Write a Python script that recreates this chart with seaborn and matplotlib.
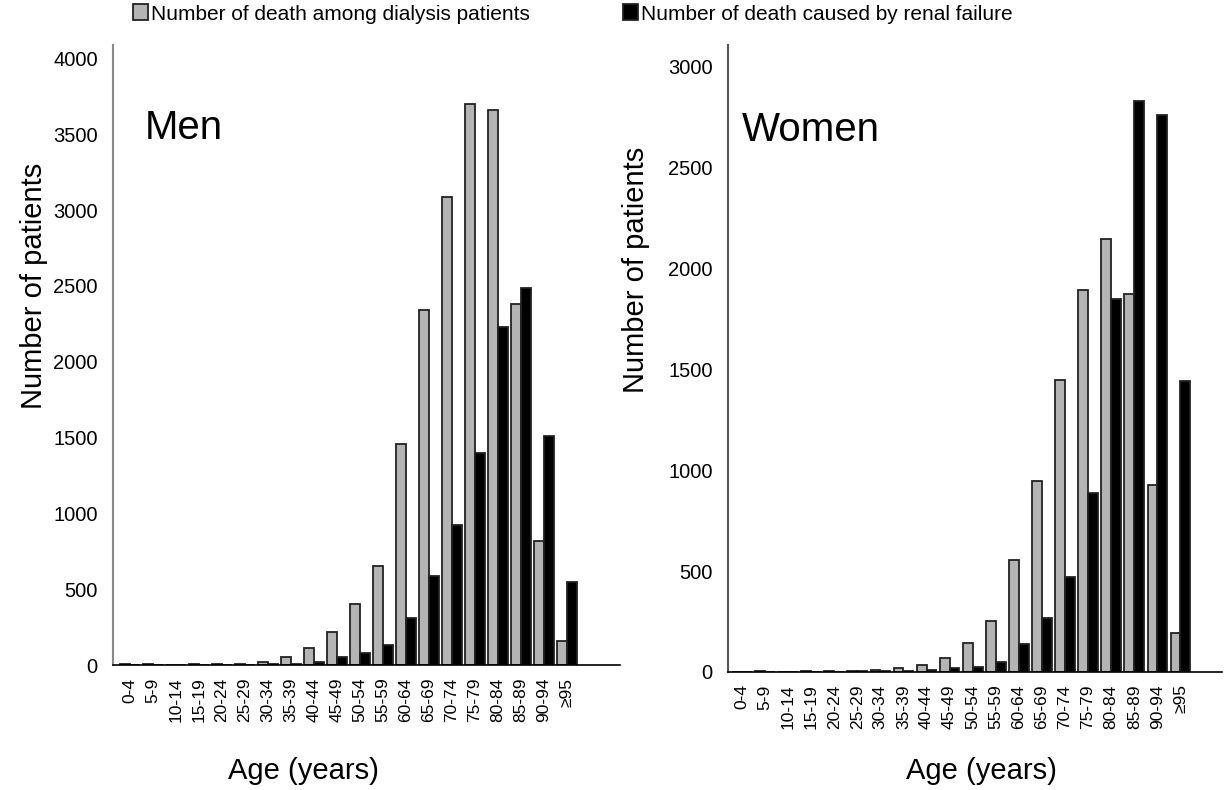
import matplotlib
matplotlib.use("Agg")
import matplotlib.pyplot as plt
import seaborn as sns
import pandas as pd

ages = ["0-4", "5-9", "10-14", "15-19", "20-24", "25-29", "30-34", "35-39",
        "40-44", "45-49", "50-54", "55-59", "60-64", "65-69", "70-74",
        "75-79", "80-84", "85-89", "90-94", "≥95"]

men_dialysis = [9, 9, 0, 9, 9, 9, 18, 53, 110, 215, 402, 654, 1455, 2343,
                3089, 3702, 3657, 2378, 821, 156]
men_renal = [0, 0, 0, 0, 2, 0, 8, 9, 22, 50, 79, 130, 312, 588, 922, 1400,
             2228, 2488, 1508, 545]

women_dialysis = [2, 5, 0, 5, 5, 5, 11, 18, 35, 68, 143, 252, 553, 949,
                  1450, 1896, 2145, 1872, 926, 192]
women_renal = [0, 0, 0, 0, 0, 3, 5, 5, 10, 18, 25, 51, 140, 270, 472, 886,
               1849, 2833, 2764, 1444]

series_names = ["Number of death among dialysis patients",
                "Number of death caused by renal failure"]

sns.set_style("white")
plt.rcParams["font.family"] = ["Liberation Sans", "DejaVu Sans"]
plt.rcParams["text.color"] = "black"
plt.rcParams["axes.labelcolor"] = "black"
plt.rcParams["xtick.color"] = "black"
plt.rcParams["ytick.color"] = "black"


def long_table(dialysis, renal):
    rows = []
    for age, d, r in zip(ages, dialysis, renal):
        rows.append({"age": age, "series": series_names[0], "value": d})
        rows.append({"age": age, "series": series_names[1], "value": r})
    return pd.DataFrame(rows)


fig = plt.figure(figsize=(12.32, 7.9), dpi=100)
ax_m = fig.add_axes([0.0917, 0.1582, 0.4115, 0.7848])
ax_w = fig.add_axes([0.5909, 0.1494, 0.401, 0.7937])

palette = {series_names[0]: "#b4b4b4", series_names[1]: "#000000"}

panels = [
    (ax_m, long_table(men_dialysis, men_renal), "Men", 4088, (-0.74, 21.3),
     [0, 500, 1000, 1500, 2000, 2500, 3000, 3500, 4000],
     (0.063, 0.866), (-0.128, 0.611), (0.375, -0.148), "#8a8a8a"),
    (ax_w, long_table(women_dialysis, women_renal), "Women", 3109, (-0.6, 20.8),
     [0, 500, 1000, 1500, 2000, 2500, 3000],
     (0.028, 0.864), (-0.158, 0.641), (0.514, -0.136), "#555555"),
]

handles = None
for ax, df, title, ymax, xlim, yticks, tpos, ylpos, xlpos, spine_col in panels:
    sns.barplot(data=df, x="age", y="value", hue="series", order=ages,
                hue_order=series_names, palette=palette, width=0.85,
                edgecolor="#222222", linewidth=1.3, saturation=1, ax=ax)
    if handles is None:
        handles, labels = ax.get_legend_handles_labels()
    ax.get_legend().remove()

    ax.set_ylim(0, ymax)
    ax.set_xlim(*xlim)
    ax.set_yticks(yticks)
    ax.tick_params(axis="y", length=0, pad=11, labelsize=14.5)
    ax.tick_params(axis="x", length=0, pad=9, labelsize=12.5, rotation=90)

    for side in ["top", "right"]:
        ax.spines[side].set_visible(False)
    ax.spines["left"].set_color(spine_col)
    ax.spines["left"].set_linewidth(1.5)
    ax.spines["bottom"].set_color("#000000")
    ax.spines["bottom"].set_linewidth(1.2)

    ax.set_ylabel("Number of patients", fontsize=21)
    ax.yaxis.set_label_coords(*ylpos)
    ax.set_xlabel("Age (years)", fontsize=21)
    ax.xaxis.set_label_coords(*xlpos)

    ax.text(tpos[0], tpos[1], title, transform=ax.transAxes, fontsize=29,
            ha="left", va="center")

fig.legend(handles, labels, loc="center left",
           bbox_to_anchor=(133 / 1232, 1 - 14 / 790), ncol=2, frameon=False,
           fontsize=15, handlelength=0.7, handleheight=0.8, handletextpad=0.15,
           columnspacing=4.5, borderpad=0, borderaxespad=0)

fig.savefig("out.png", dpi=100)
